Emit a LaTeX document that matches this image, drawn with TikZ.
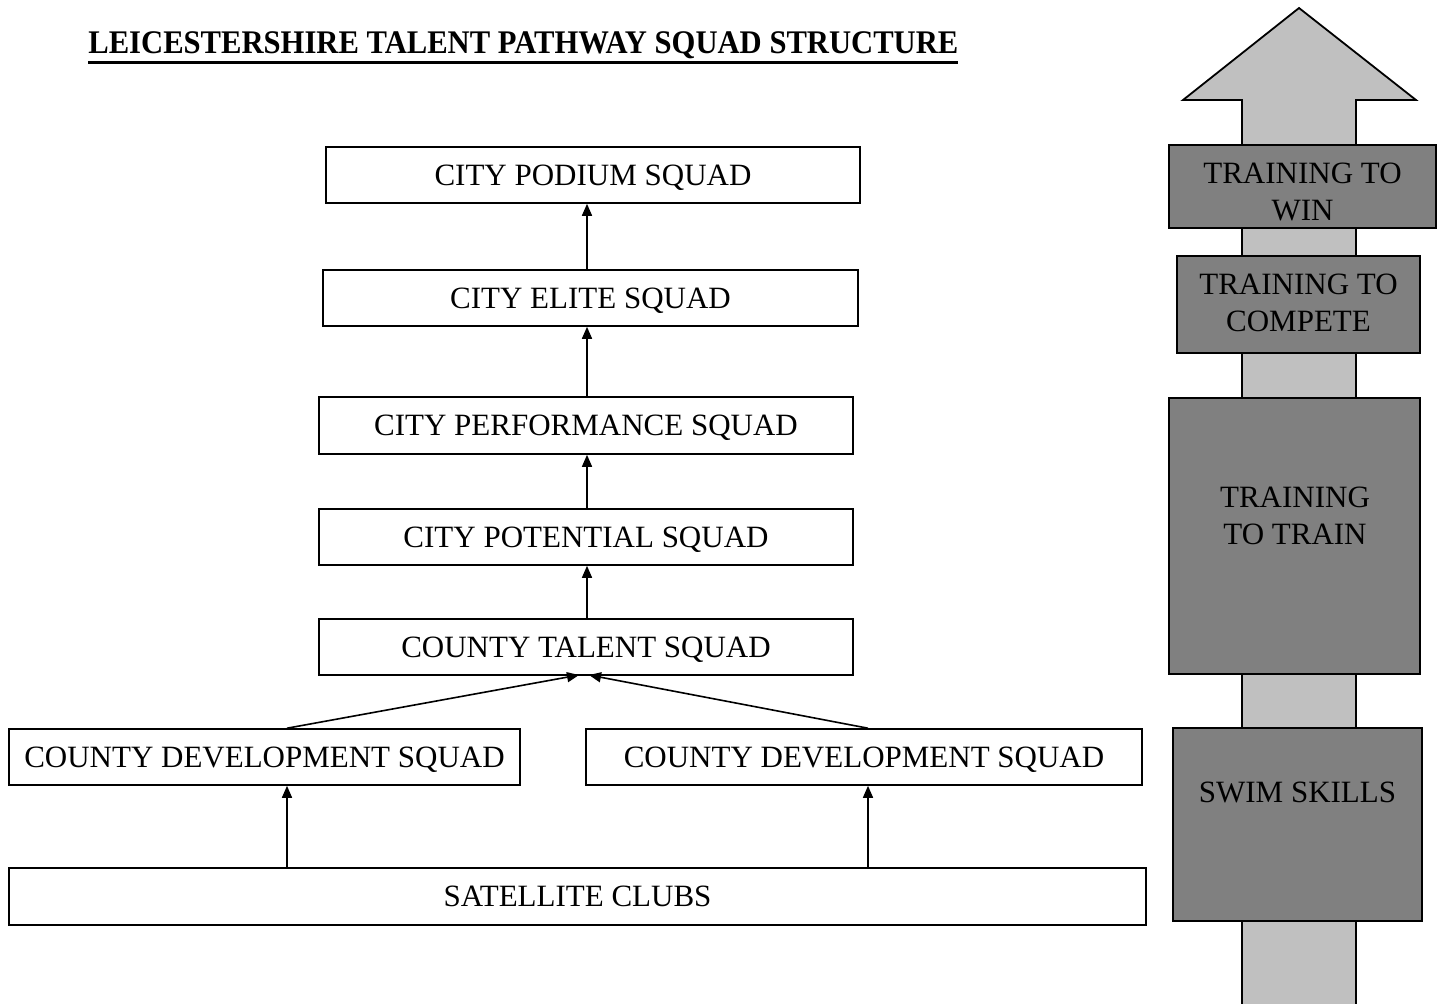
\documentclass[tikz,border=0pt]{standalone}
\usepackage{fontspec}
\setmainfont{Liberation Serif}
\usetikzlibrary{arrows.meta}
\definecolor{lightg}{HTML}{C0C0C0}
\definecolor{darkg}{HTML}{808080}
\begin{document}
\begin{tikzpicture}[x=0.5pt,y=-0.5pt,
  sq/.style={draw, line width=0.8pt, fill=white, inner sep=0pt, text height=10.3pt, text depth=0pt, font=\fontsize{15.5}{18}\selectfont},
  stage/.style={draw, line width=0.9pt, fill=darkg, inner sep=0pt},
  stagetext/.style={align=center, inner sep=0pt, font=\fontsize{15.5}{18.5}\selectfont},
  arr/.style={line width=0.8pt, -{Triangle[length=6pt,width=5pt]}},
  ln/.style={line width=0.8pt}]
\useasboundingbox (0,0) rectangle (1439,1003);
\fill[white] (0,0) rectangle (1439,1003);

% title
\node[anchor=base west, inner sep=0pt, font=\fontsize{16.5}{18}\selectfont\bfseries] (title) at (88,53)
  {\vtop{\hbox{\resizebox{435pt}{\height}{LEICESTERSHIRE TALENT PATHWAY SQUAD STRUCTURE}}\kern1.1pt\hrule height 1.6pt}};

% squads
\node[sq, minimum width=267pt, minimum height=28pt] (podium) at (593,175) {CITY PODIUM SQUAD};
\node[sq, minimum width=267.5pt, minimum height=28pt] (elite) at (590.5,298) {CITY ELITE SQUAD};
\node[sq, minimum width=267pt, minimum height=28.5pt] (perf) at (586,425.5) {CITY PERFORMANCE SQUAD};
\node[sq, minimum width=267pt, minimum height=28pt] (potential) at (586,537) {CITY POTENTIAL SQUAD};
\node[sq, minimum width=267pt, minimum height=28pt] (talent) at (586,647) {COUNTY TALENT SQUAD};
\node[sq, minimum width=255.5pt, minimum height=28pt] (devL) at (264.5,757) {COUNTY DEVELOPMENT SQUAD};
\node[sq, minimum width=278pt, minimum height=28pt] (devR) at (864,757) {COUNTY DEVELOPMENT SQUAD};
\node[sq, minimum width=568.5pt, minimum height=28.5pt] (sat) at (577.5,896.5) {SATELLITE CLUBS};

\coordinate (ax) at (587,0);
\coordinate (lx) at (287,0);
\coordinate (rx) at (868,0);
\coordinate (tl) at (579,675);
\coordinate (tr) at (589,675);

\draw[arr] (elite.north -| ax) -- (podium.south -| ax);
\draw[arr] (perf.north -| ax) -- (elite.south -| ax);
\draw[arr] (potential.north -| ax) -- (perf.south -| ax);
\draw[arr] (talent.north -| ax) -- (potential.south -| ax);
\draw[arr] (devL.north -| lx) -- (tl);
\draw[arr] (devR.north -| rx) -- (tr);
\draw[arr] (sat.north -| lx) -- (devL.south -| lx);
\draw[arr] (sat.north -| rx) -- (devR.south -| rx);

% big arrow
\filldraw[fill=lightg, draw=black, line width=0.9pt]
  (1242,1010) -- (1242,100) -- (1183,100) -- (1299,8) -- (1416,100) -- (1356,100) -- (1356,1010);

% stages
\node[stage, minimum width=133.5pt, minimum height=41.5pt] (win) at (1302.5,186.5) {};
\node[stage, minimum width=121.5pt, minimum height=48.5pt] (compete) at (1298.5,304.5) {};
\node[stage, minimum width=125.5pt, minimum height=138pt] (train) at (1294.5,536) {};
\node[stage, minimum width=124.5pt, minimum height=96.5pt] (swim) at (1297.5,824.5) {};

\node[stagetext, anchor=north] (wint) at (1302.5,163) {TRAINING TO\\WIN};
\node[stagetext, anchor=north] (competet) at (1298.5,274) {TRAINING TO\\COMPETE};
\node[stagetext, anchor=north] (traint) at (1295,487) {TRAINING\\TO TRAIN};
\node[stagetext, anchor=north] (swimt) at (1297.5,782) {SWIM SKILLS};
\end{tikzpicture}
\end{document}
